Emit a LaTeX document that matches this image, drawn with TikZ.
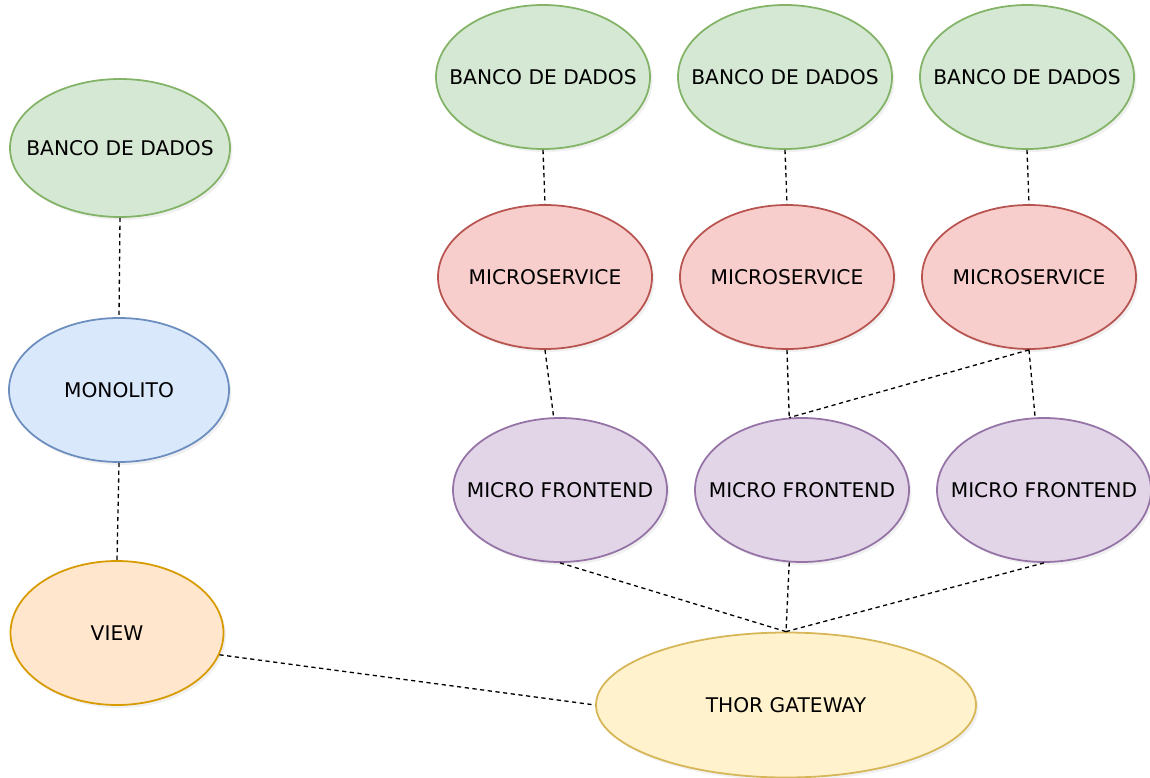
\documentclass[tikz,border=0pt]{standalone}
\usepackage{fontspec}
\setmainfont{DejaVu Sans}
\usepackage{tikz}
\usetikzlibrary{shapes.geometric,shadows}
\definecolor{DbFill}{HTML}{D5E8D4}
\definecolor{DbLine}{HTML}{82B366}
\definecolor{MsFill}{HTML}{F8CECC}
\definecolor{MsLine}{HTML}{B85450}
\definecolor{MonoFill}{HTML}{DAE8FC}
\definecolor{MonoLine}{HTML}{6C8EBF}
\definecolor{MfFill}{HTML}{E1D5E7}
\definecolor{MfLine}{HTML}{9673A6}
\definecolor{ViewFill}{HTML}{FFE6CC}
\definecolor{ViewLine}{HTML}{D79B00}
\definecolor{GwFill}{HTML}{FFF2CC}
\definecolor{GwLine}{HTML}{D6B656}

\begin{document}
\begin{tikzpicture}[
        bubble/.style={ellipse, draw, line width=1pt, inner sep=0pt,
            minimum width=4.28cm, minimum height=2.88cm,
            drop shadow={opacity=0.12, shadow xshift=0.05cm, shadow yshift=-0.06cm}},
        dbase/.style={bubble, fill=DbFill, draw=DbLine},
        mserv/.style={bubble, fill=MsFill, draw=MsLine},
        mfront/.style={bubble, fill=MfFill, draw=MfLine},
        link/.style={line width=0.75pt, dash pattern=on 2.4pt off 2pt},
        every label/.style={font=\fontsize{11.5}{13}\selectfont, text=black}
    ]
                \useasboundingbox (0,0) rectangle (23,-15.56);

                \node[dbase, minimum width=4.4cm, minimum height=2.76cm, label=center:BANCO DE DADOS] (db0) at (2.4,-2.96) {};
                \node[bubble, fill=MonoFill, draw=MonoLine, minimum width=4.4cm, label=center:MONOLITO] (mono) at (2.38,-7.8) {};
                \node[bubble, fill=ViewFill, draw=ViewLine, minimum width=4.26cm, label=center:VIEW] (view) at (2.34,-12.66) {};
                \node[bubble, fill=GwFill, draw=GwLine, minimum width=7.6cm, minimum height=2.9cm, label=center:THOR GATEWAY] (gw) at (15.72,-14.1) {};

                \foreach[count=\i] \x in {10.86,15.7,20.54} {
                    \node[dbase, label=center:BANCO DE DADOS] (db\i) at (\x,-1.54) {};
                    \node[mserv, label=center:MICROSERVICE] (ms\i) at (\x+0.04,-5.54) {};
                    \node[mfront, label=center:MICRO FRONTEND] (mf\i) at (\x+0.34,-9.8) {};
                    \draw[link] (db\i.south) -- (ms\i.south |- ms\i.north);
                }

                \draw[link] (db0.south) -- (mono.north);
                \draw[link] (mono.south) -- (view.north);
                \draw[link] (view.-12) -- (gw.west);

                \draw[link] (ms1.south) -- (mf1.95);
                \draw[link] (ms2.south) -- (mf2.100);
                \draw[link] (ms3.south) -- (mf3.97);
                \draw[link] (ms3.south) -- (mf2.100);

                \draw[link] (mf1.south) -- (gw.north);
                \draw[link] (mf2.260) -- (gw.north);
                \draw[link] (mf3.south) -- (gw.north);
            \end{tikzpicture}
\end{document}
